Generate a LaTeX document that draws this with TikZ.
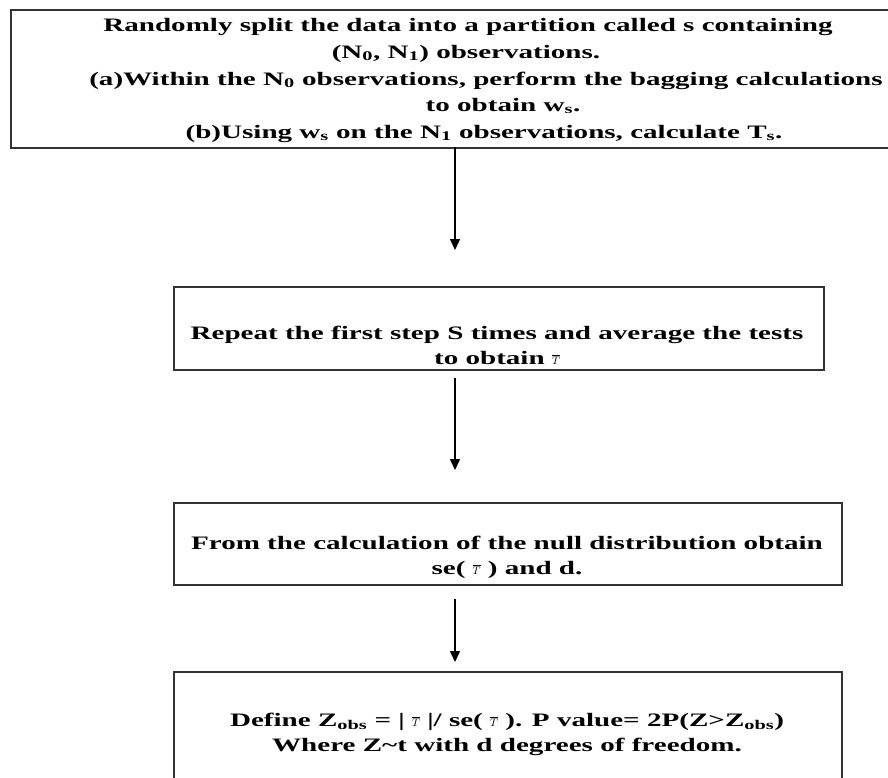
\documentclass[tikz,border=0pt]{standalone}
\usepackage{fontspec}
\setmainfont[FakeStretch=1.53]{Liberation Serif}
\usetikzlibrary{arrows.meta}

\newcommand{\Tbar}{{\fontsize{11}{11}\selectfont$\overline{T}$}}

\begin{document}
\begin{tikzpicture}[x=1pt,y=-1pt,line cap=butt,line join=miter,>={Triangle[width=10pt,length=11pt]},
  every node/.style={inner sep=0pt},
  stepbox/.style={draw=black!80,line width=1.8pt,rectangle},
  txt/.style={font=\fontsize{19}{25}\selectfont\bfseries,align=center},
  flow/.style={->,line width=1.4pt}]
  \useasboundingbox (0,0) rectangle (888,777);
  % boxes
  \node[stepbox,minimum width=884pt,minimum height=138pt,anchor=north west] (split) at (10,9) {};
  \node[stepbox,minimum width=650pt,minimum height=83pt,anchor=north west] (repeat) at (173,286) {};
  \node[stepbox,minimum width=668pt,minimum height=82pt,anchor=north west] (null) at (173,502) {};
  \node[stepbox,minimum width=668pt,minimum height=120pt,anchor=north west] (define) at (173,671) {};
  % texts
  \node[txt,anchor=base] (l1) at (468,31) {Randomly split the data into a partition called s containing};
  \node[txt,anchor=base] (l2) at (466,58) {(N\textsubscript{0}, N\textsubscript{1}) observations.};
  \node[txt,anchor=base] (l3) at (486,85) {(a)Within the N\textsubscript{0} observations, perform the bagging calculations};
  \node[txt,anchor=base] (l4) at (503,111) {to obtain w\textsubscript{s}.};
  \node[txt,anchor=base] (l5) at (484,138) {(b)Using w\textsubscript{s} on the N\textsubscript{1} observations, calculate T\textsubscript{s}.};
  \node[txt] (t2) at (497,345) {Repeat the first step S times and average the tests\\to obtain \Tbar};
  \node[txt] (t3) at (507,557) {From the calculation of the null distribution obtain\\se( \Tbar\ ) and d.};
  \node[txt] (t4) at (507,734) {Define Z\textsubscript{obs} = | \Tbar\ |/ se( \Tbar\ ). P value= 2P(Z>Z\textsubscript{obs})\\Where Z\textasciitilde t with d degrees of freedom.};
  % arrow ends
  \coordinate (a1) at (455,147);
  \coordinate (b1) at (455,250);
  \coordinate (a2) at (455,378);
  \coordinate (b2) at (455,470);
  \coordinate (a3) at (455,599);
  \coordinate (b3) at (455,662);
  % arrows
  \draw[flow] (a1) -- (b1);
  \draw[flow] (a2) -- (b2);
  \draw[flow] (a3) -- (b3);
\end{tikzpicture}
\end{document}
